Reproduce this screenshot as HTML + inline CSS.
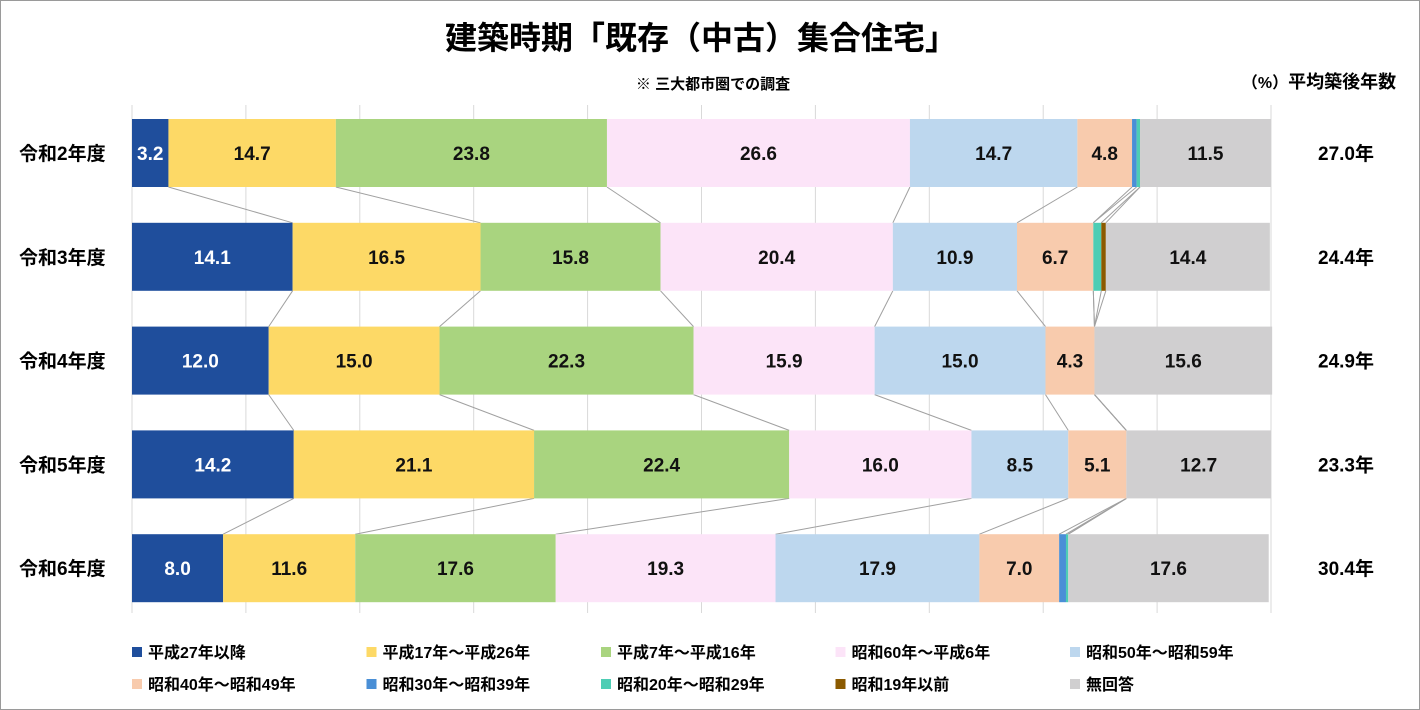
<!DOCTYPE html>
<html><head><meta charset="utf-8"><style>
body{margin:0;background:#fff}
#wrap{position:relative;width:1420px;height:710px;box-sizing:border-box;border:1px solid #9a9a9a;font-family:"Liberation Sans","Noto Sans CJK JP",sans-serif;overflow:hidden}
</style></head><body>
<div id="wrap">
<svg id="chart" width="1420" height="710" style="position:absolute;left:0;top:0" font-family="Liberation Sans, Noto Sans CJK JP, sans-serif">
<text x="700" y="48" text-anchor="middle" font-size="32" font-weight="bold">建築時期「既存（中古）集合住宅」</text>
<text x="712" y="88" text-anchor="middle" font-size="15" font-weight="bold">※ 三大都市圏での調査</text>
<text x="1318" y="87" text-anchor="middle" font-size="18" font-weight="bold"><tspan font-size="16">（%）</tspan>平均築後年数</text>
</svg>
</div>
<script>
const categories=["令和2年度","令和3年度","令和4年度","令和5年度","令和6年度"];
const seriesNames=["平成27年以降","平成17年～平成26年","平成7年～平成16年","昭和60年～平成6年","昭和50年～昭和59年","昭和40年～昭和49年","昭和30年～昭和39年","昭和20年～昭和29年","昭和19年以前","無回答"];
const s0=[3.2,14.1,12.0,14.2,8.0];
const s1=[14.7,16.5,15.0,21.1,11.6];
const s2=[23.8,15.8,22.3,22.4,17.6];
const s3=[26.6,20.4,15.9,16.0,19.3];
const s4=[14.7,10.9,15.0,8.5,17.9];
const s5=[4.8,6.7,4.3,5.1,7.0];
const s6=[0.4,0.0,0.0,0.0,0.6];
const s7=[0.3,0.7,0.0,0.0,0.2];
const s8=[0.0,0.4,0.0,0.0,0.0];
const s9=[11.5,14.4,15.6,12.7,17.6];
const avgYears=["27.0年","24.4年","24.9年","23.3年","30.4年"];
const series=[s0,s1,s2,s3,s4,s5,s6,s7,s8,s9];
const colors=["#1f4e9c","#fdd966","#a9d47f","#fce4f8","#bdd7ee","#f8cbad","#4a8fd6","#4ecdb4","#8b5a00","#d0cfd0"];
const svg=document.getElementById('chart');const NS="http://www.w3.org/2000/svg";
const X0=131,X1=1270,Y0=118,STEP=103.8,BH=68;
const xs=v=>X0+(X1-X0)*v/100;
const ys=i=>Y0+i*STEP;
function mk(t,a){const e=document.createElementNS(NS,t);for(const k in a)e.setAttribute(k,a[k]);svg.appendChild(e);return e;}
for(let k=0;k<=10;k++){const g=mk('line',{x1:xs(k*10),x2:xs(k*10),y1:104,y2:612,stroke:'#d9d9d9','stroke-width':1});

}
for(let i=0;i<categories.length-1;i++){let c1=0,c2=0;for(let s=0;s<series.length-1;s++){c1+=series[s][i];c2+=series[s][i+1];
const l=mk('line',{x1:xs(c1),y1:ys(i)+BH,x2:xs(c2),y2:ys(i+1),stroke:'#a0a0a0','stroke-width':1});

}}
categories.forEach((c,i)=>{let cum=0;const y=ys(i);
series.forEach((arr,s)=>{const v=arr[i];if(v>0){const r=mk('rect',{x:xs(cum),y:y,width:xs(cum+v)-xs(cum),height:BH,fill:colors[s]});


if(v>=3){const t=mk('text',{x:(xs(cum)+xs(cum+v))/2,y:y+BH/2+7,'text-anchor':'middle','font-size':19,'font-weight':'bold',fill:s==0?'#fff':'#111'});t.textContent=v.toFixed(1);

}}cum+=v;});
const lb=mk('text',{x:18,y:y+BH/2+7,'font-size':19,'font-weight':'bold'});lb.textContent=c;


const av=mk('text',{x:1345,y:y+BH/2+7,'text-anchor':'middle','font-size':19,'font-weight':'bold'});av.textContent=avgYears[i];

});
seriesNames.forEach((n,s)=>{const col=s%5,row=Math.floor(s/5);const x=131+col*234.5,y=651+row*32;
const r=mk('rect',{x:x,y:y-5,width:10,height:10,fill:colors[s]});


const t=mk('text',{x:x+16,y:y+6,'font-size':16,'font-weight':'bold'});t.textContent=n;

});
</script>
</body></html>
